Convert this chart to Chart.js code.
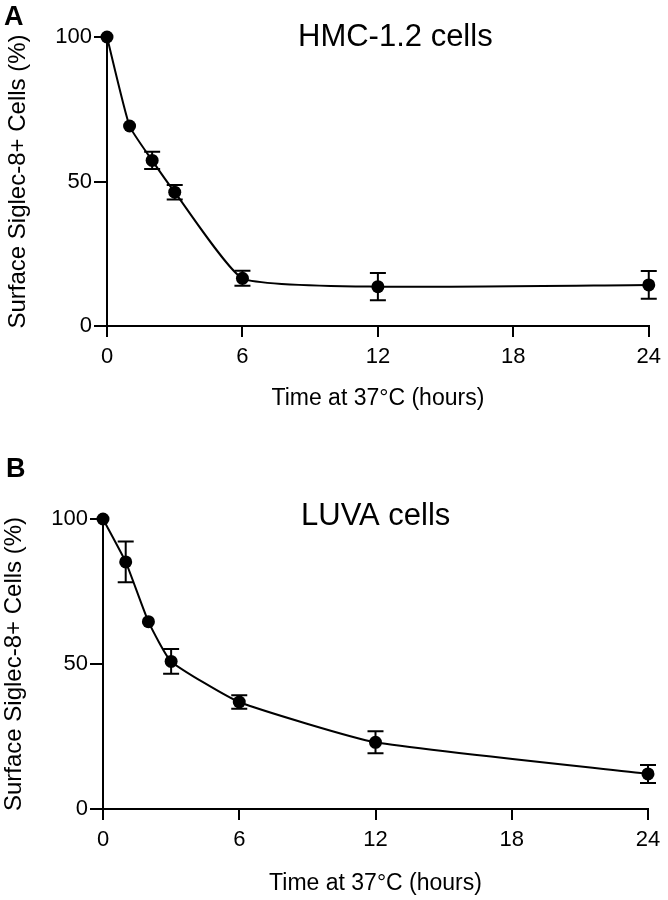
<!DOCTYPE html>
<html lang="en">
<head>
    <meta charset="UTF-8">
    <title>Surface Siglec-8 over time</title>
    <script src="https://cdn.jsdelivr.net/npm/chart.js"></script>
    <style>
        body {
            margin: 0;
            background: #fff;
        }

        .panel {
            position: relative;
            width: 668px;
            height: 450px;
        }
    </style>
</head>
<body>
    <div class="panel"><canvas id="chartA" width="668" height="450"></canvas></div>
    <div class="panel"><canvas id="chartB" width="668" height="450"></canvas></div>

    <script>
        // time points (hours)
        const hours = [0, 1, 2, 3, 6, 12, 24];
        const xTicks = [0, 6, 12, 18, 24];
        const yTicks = [0, 50, 100];

        // HMC-1.2 cells: mean and SEM
        const hmcMean = [100, 69.2, 57.3, 46.3, 16.5, 13.6, 14.2];
        const hmcErr = [0, 0, 3.0, 2.5, 2.6, 4.7, 4.8];

        // LUVA cells: mean and SEM
        const luvaMean = [100, 85.2, 64.6, 50.9, 36.9, 23.0, 12.1];
        const luvaErr = [0, 7.0, 0, 4.3, 2.3, 3.8, 3.1];

        const FONT = "'Liberation Sans', Arial, Helvetica, sans-serif";

        const errorBars = {
            id: "errorBars",
            afterDatasetsDraw(chart, args, opts) {
                const ctx = chart.ctx;
                const xs = chart.scales.x, ys = chart.scales.y;
                const mean = opts.mean, err = opts.err;
                ctx.save();
                ctx.strokeStyle = "#000";
                ctx.lineWidth = 2;
                for (let i = 0; i < mean.length; i++) {
                    if (!err[i]) continue;
                    const x = xs.getPixelForValue(hours[i]);
                    const top = ys.getPixelForValue(mean[i] + err[i]);
                    const bot = ys.getPixelForValue(mean[i] - err[i]);
                    ctx.beginPath();
                    ctx.moveTo(x, top); ctx.lineTo(x, bot);
                    ctx.moveTo(x - 8, top); ctx.lineTo(x + 8, top);
                    ctx.moveTo(x - 8, bot); ctx.lineTo(x + 8, bot);
                    ctx.stroke();
                }
                ctx.restore();
            }
        };

        const labels = {
            id: "labels",
            afterDraw(chart, args, opts) {
                const ctx = chart.ctx;
                ctx.save();
                ctx.fillStyle = "#000";
                ctx.textBaseline = "alphabetic";
                ctx.font = "bold 27px " + FONT;
                ctx.fillText(opts.letter, opts.letterX, opts.letterY);
                ctx.font = "31px " + FONT;
                ctx.fillText(opts.title, opts.titleX, opts.titleY);
                ctx.restore();
            }
        };

        function drawPanel(id, mean, err, g) {
            const ctx = document.getElementById(id).getContext("2d");
            new Chart(ctx, {
                type: "line",
                data: {
                    datasets: [{
                        data: hours.map((h, i) => ({ x: h, y: mean[i] })),
                        borderColor: "#000",
                        backgroundColor: "#000",
                        borderWidth: 2,
                        pointRadius: 6.5,
                        pointBorderWidth: 0,
                        tension: 0.15,
                        clip: false
                    }]
                },
                options: {
                    responsive: false,
                    animation: false,
                    layout: { padding: { left: 0, right: g.right, top: g.top, bottom: 0 } },
                    plugins: {
                        legend: { display: false },
                        tooltip: { enabled: false },
                        errorBars: { mean: mean, err: err },
                        labels: g.labels
                    },
                    scales: {
                        x: {
                            type: "linear",
                            min: 0,
                            max: 24,
                            afterBuildTicks: s => { s.ticks = xTicks.map(v => ({ value: v })); },
                            afterFit: s => { s.height = g.xHeight; },
                            grid: { drawOnChartArea: false, color: "#000", lineWidth: 2, tickLength: 11 },
                            border: { color: "#000", width: 2 },
                            ticks: { color: "#000", padding: 7, font: { family: FONT, size: 22 } },
                            title: {
                                display: true,
                                text: "Time at 37°C (hours)",
                                color: "#000",
                                font: { family: FONT, size: 23 },
                                padding: { top: 0, bottom: g.xTitlePad }
                            }
                        },
                        y: {
                            min: 0,
                            max: 100,
                            afterBuildTicks: s => { s.ticks = yTicks.map(v => ({ value: v })); },
                            afterFit: s => { s.width = g.yWidth; },
                            grid: { drawOnChartArea: false, color: "#000", lineWidth: 2, tickLength: 13 },
                            border: { color: "#000", width: 2 },
                            ticks: { color: "#000", padding: 2, font: { family: FONT, size: 22 } },
                            title: {
                                display: true,
                                text: "Surface Siglec-8+ Cells (%)",
                                color: "#000",
                                font: { family: FONT, size: 24 },
                                padding: { top: g.yTitlePad, bottom: 0 }
                            }
                        }
                    }
                },
                plugins: [errorBars, labels]
            });
        }

        drawPanel("chartA", hmcMean, hmcErr, {
            right: 16, top: 37, xHeight: 124, yWidth: 107, xTitlePad: 38, yTitlePad: 4,
            labels: { letter: "A", letterX: 4, letterY: 25, title: "HMC-1.2 cells", titleX: 298, titleY: 46 }
        });

        drawPanel("chartB", luvaMean, luvaErr, {
            right: 20, top: 69, xHeight: 91, yWidth: 103, xTitlePad: 3, yTitlePad: 0,
            labels: { letter: "B", letterX: 6, letterY: 27, title: "LUVA cells", titleX: 301, titleY: 75 }
        });
    </script>
</body>
</html>
